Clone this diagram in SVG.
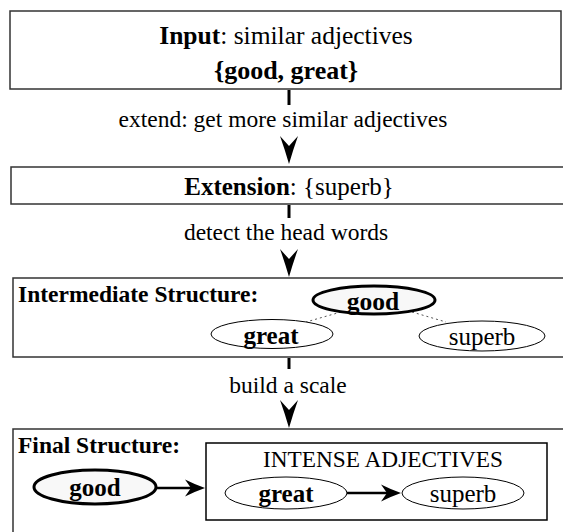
<svg xmlns="http://www.w3.org/2000/svg" width="563" height="532" viewBox="0 0 563 532">
<style>
text{font-family:"Liberation Serif","Times New Roman",serif;fill:#000}
.b{font-weight:bold}
.box{fill:#fff;stroke:#333;stroke-width:1.5}
.stem{stroke:#000;stroke-width:3}
.ah{fill:#000}
.e{fill:#fff;stroke:#000;stroke-width:1}
.eh{fill:#f8f8f8;stroke:#000;stroke-width:3}
.dot{stroke:#555;stroke-width:1;stroke-dasharray:2,3;fill:none}
.arr{stroke:#000;stroke-width:2.5;fill:none}
</style>
<defs>
<path id="vhead" d="M0,0 Q-4,-14 -9,-28 L0,-18 L9,-28 Q4,-14 0,0 Z"/>
<path id="hhead" d="M0,0 Q-10,-3.5 -20,-8.5 L-14,0 L-20,8.5 Q-10,3.5 0,0 Z"/>
</defs>
<g id="input">
<rect class="box" x="10" y="11" width="551" height="78"/>
<text x="286" y="44" font-size="25.5" text-anchor="middle"><tspan class="b">Input</tspan>: similar adjectives</text>
<text x="286" y="79" font-size="26" text-anchor="middle" class="b">{good, great}</text>
</g>
<g id="extension">
<rect class="box" x="11" y="167" width="553" height="37"/>
<text x="289" y="195" font-size="25" text-anchor="middle"><tspan class="b">Extension</tspan>: {superb}</text>
</g>
<g id="intermediate">
<rect class="box" x="13" y="278" width="551" height="79"/>
<text x="18" y="302" font-size="23.5" class="b">Intermediate Structure:</text>
<line class="dot" x1="341" y1="312" x2="306" y2="322"/>
<line class="dot" x1="412" y1="312" x2="446" y2="322"/>
<g id="i-good"><ellipse class="eh" cx="374" cy="300" rx="61" ry="14"/><text x="373" y="310" font-size="25.5" class="b" text-anchor="middle">good</text></g>
<g id="i-great"><ellipse class="e" cx="272" cy="334" rx="61" ry="14.5"/><text x="271" y="344" font-size="25" class="b" text-anchor="middle">great</text></g>
<g id="i-superb"><ellipse class="e" cx="482" cy="336" rx="63" ry="15"/><text x="482" y="345" font-size="25" text-anchor="middle">superb</text></g>
</g>
<g id="final">
<rect class="box" x="13" y="429" width="551" height="104"/>
<text x="18" y="453" font-size="23.5" class="b">Final Structure:</text>
<g id="f-good"><ellipse class="eh" cx="95" cy="487" rx="61" ry="17"/><text x="95" y="496" font-size="25" class="b" text-anchor="middle">good</text></g>
<g id="intense">
<rect fill="#fff" stroke="#000" stroke-width="1.5" x="206" y="443" width="341" height="77"/>
<text x="383" y="467" font-size="23.3" text-anchor="middle">INTENSE ADJECTIVES</text>
<g id="f-great"><ellipse class="e" cx="286" cy="493" rx="61" ry="16"/><text x="286" y="502" font-size="25" class="b" text-anchor="middle">great</text></g>
<g id="f-superb"><ellipse class="e" cx="463" cy="493" rx="61" ry="16"/><text x="463" y="502" font-size="25" text-anchor="middle">superb</text></g>
</g>
</g>
<g id="connectors">
<line class="stem" x1="289" y1="90" x2="289" y2="105"/>
<text x="283" y="127" font-size="23.5" text-anchor="middle">extend: get more similar adjectives</text>
<use href="#vhead" class="ah" transform="translate(289,164)"/>
<line class="stem" x1="289" y1="205" x2="289" y2="218"/>
<text x="286" y="240" font-size="23.5" text-anchor="middle">detect the head words</text>
<use href="#vhead" class="ah" transform="translate(289,277)"/>
<line class="stem" x1="289" y1="358" x2="289" y2="369"/>
<text x="288" y="393" font-size="23.5" text-anchor="middle">build a scale</text>
<use href="#vhead" class="ah" transform="translate(289,428)"/>
<line class="arr" x1="157" y1="488" x2="192" y2="488"/>
<use href="#hhead" class="ah" transform="translate(205,488)"/>
<line class="arr" x1="347" y1="493" x2="387" y2="493"/>
<use href="#hhead" class="ah" transform="translate(401,493)"/>
</g>
</svg>
